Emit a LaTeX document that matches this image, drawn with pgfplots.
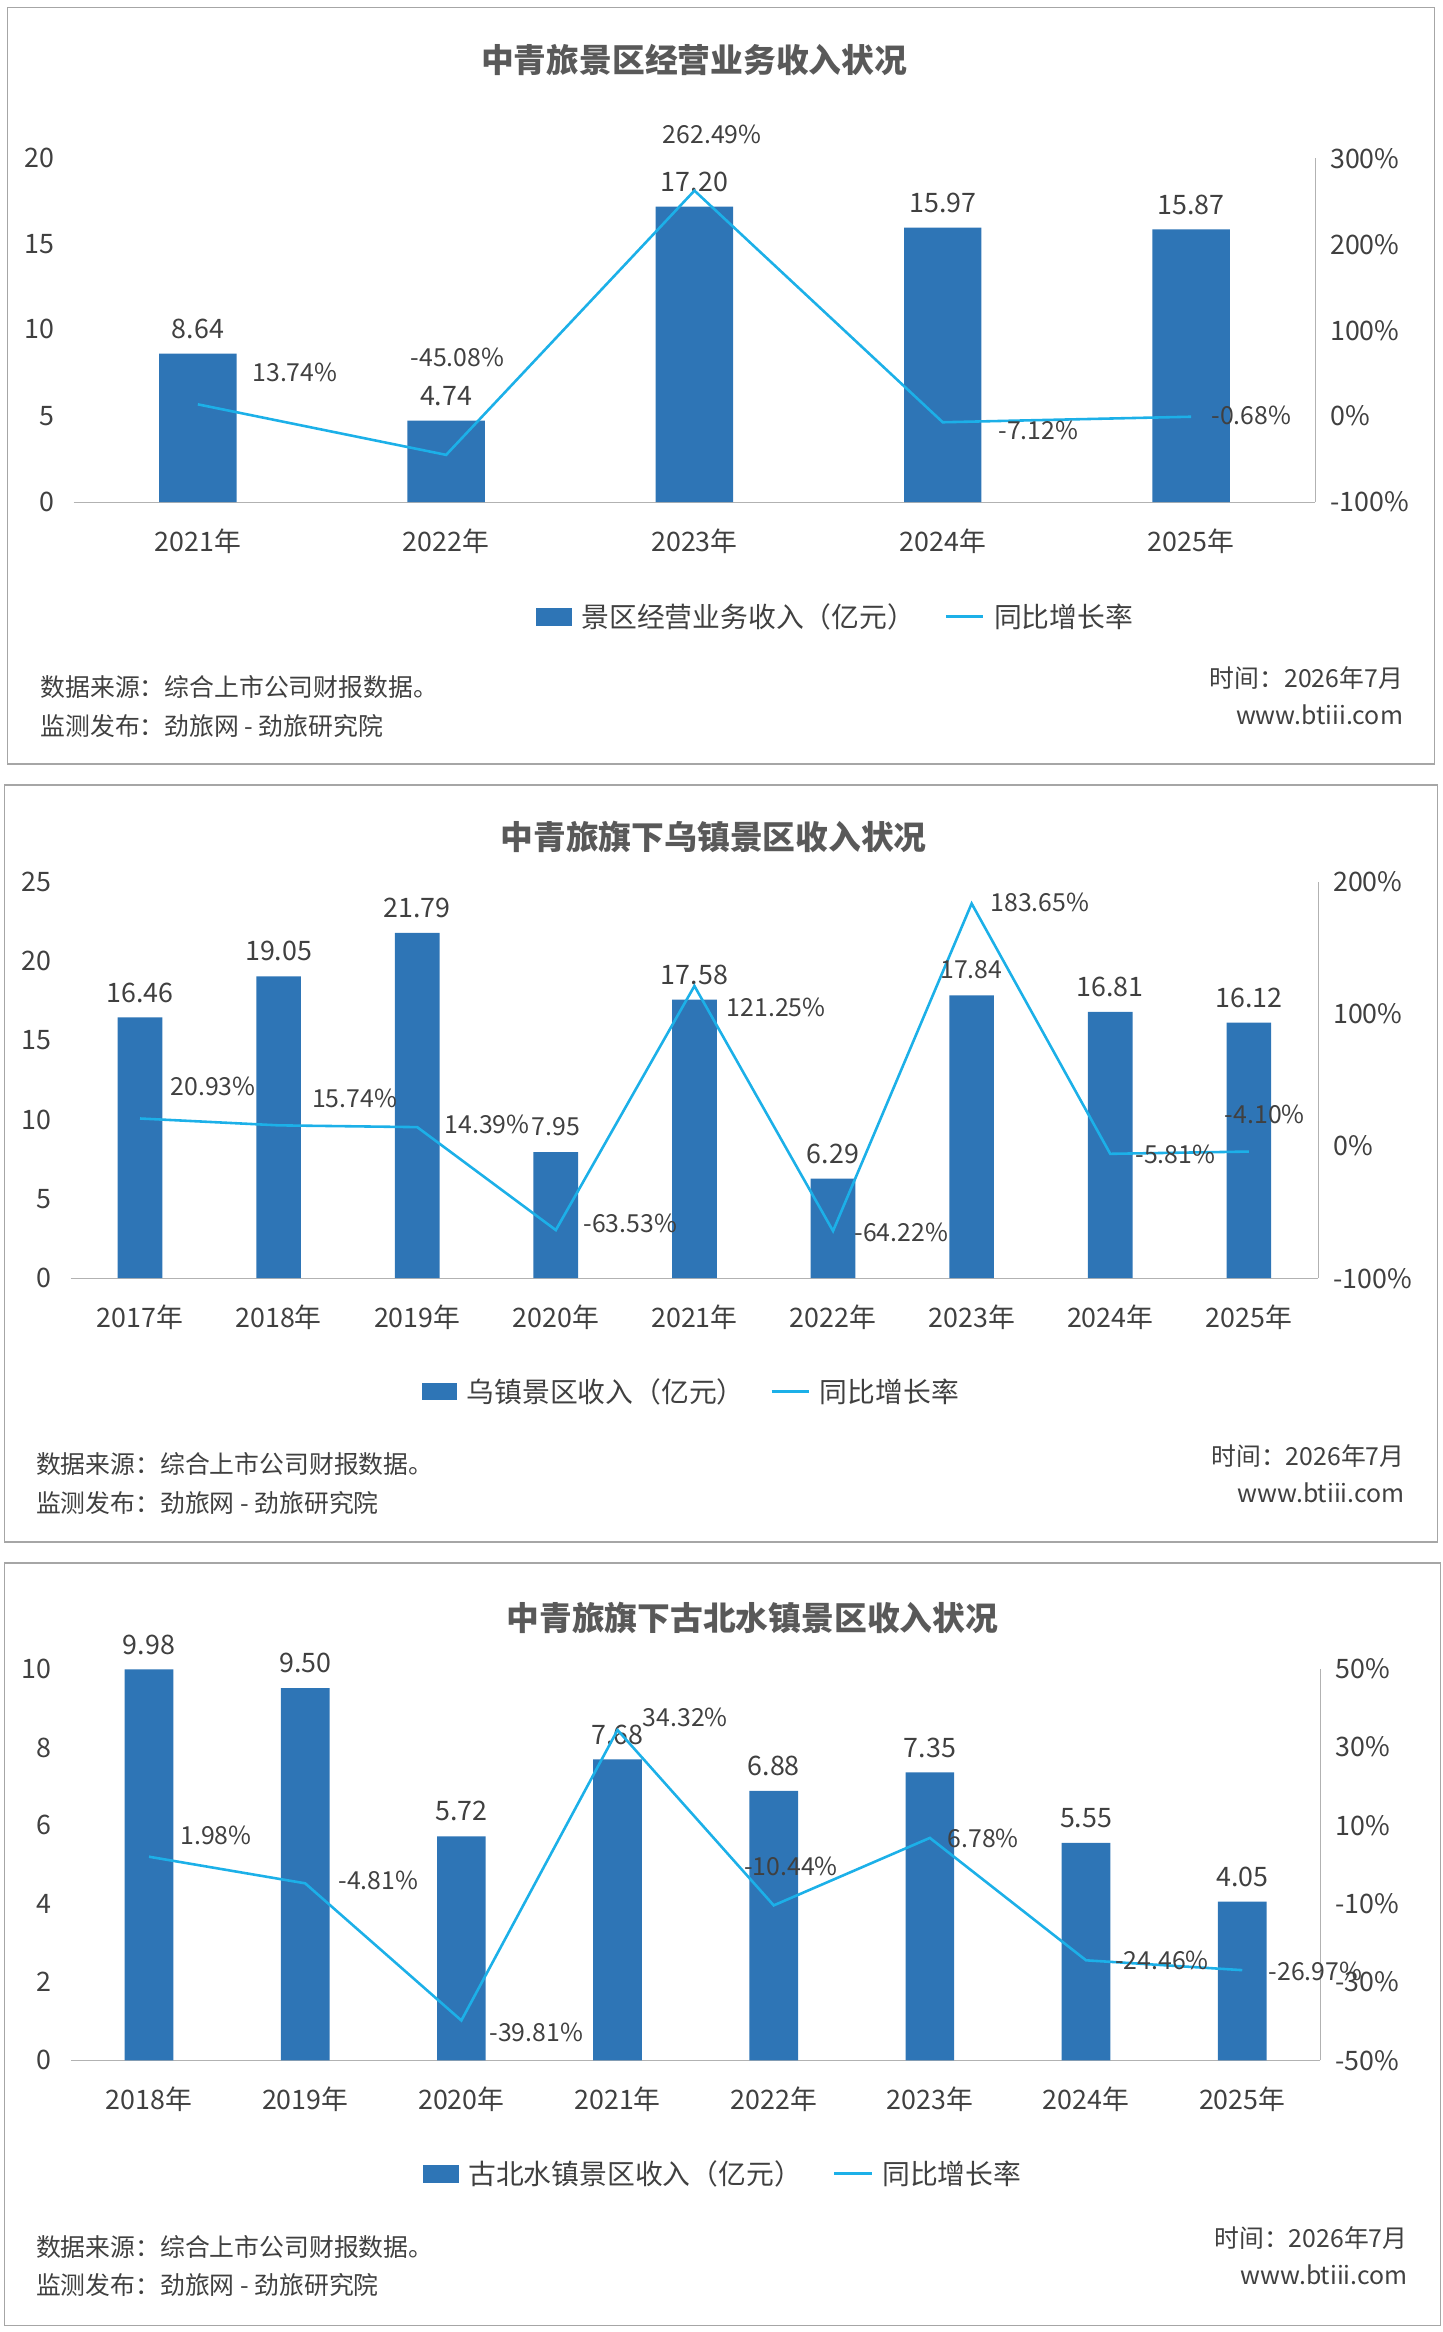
\documentclass[border=0pt]{standalone}
\usepackage{pgfplots}
\pgfplotsset{compat=1.18}
\usepackage{fontspec}
\setmainfont{Noto Sans CJK SC}
\definecolor{barc}{HTML}{2E75B6}
\definecolor{linec}{HTML}{1CB0E8}
\definecolor{txt}{HTML}{404040}
\definecolor{ttl}{HTML}{595959}
\newcommand{\lab}[4][center]{\node[anchor=#1,inner sep=0pt,text=txt,font=\fontsize{12.5}{14}\selectfont] at ({#2*0.75pt},{-#3*0.75pt}) {#4};}
\newcommand{\foot}[4]{%
 \node[anchor=west,inner sep=0pt,text=txt,font=\fontsize{12.5}{14}\selectfont] at ({#1*0.75pt},{-#2*0.75pt}) {数据来源：综合上市公司财报数据。};
 \node[anchor=west,inner sep=0pt,text=txt,font=\fontsize{12.5}{14}\selectfont] at ({#1*0.75pt},{-(#2+26)*0.75pt}) {监测发布：劲旅网 - 劲旅研究院};
 \node[anchor=east,inner sep=0pt,text=txt,font=\fontsize{12.5}{14}\selectfont] at ({#3*0.75pt},{-#4*0.75pt}) {时间：2026年7月};
 \node[anchor=east,inner sep=0pt,text=txt,font=\fontsize{12.5}{14}\selectfont] at ({#3*0.75pt},{-(#4+25)*0.75pt}) {www.btiii.com};}
\newcommand{\leg}[5]{%
 \fill[barc] ({#1*0.75pt},{-(#2-6)*0.75pt}) rectangle ({(#1+24)*0.75pt},{-(#2+6)*0.75pt});
 \node[anchor=west,inner sep=0pt,text=txt,font=\fontsize{14}{16}\selectfont] at ({(#1+30)*0.75pt},{-#2*0.75pt}) {#3};
 \draw[linec,line width=1.5pt] ({#4*0.75pt},{-#2*0.75pt}) -- ({(#4+25)*0.75pt},{-#2*0.75pt});
 \node[anchor=west,inner sep=0pt,text=txt,font=\fontsize{14}{16}\selectfont] at ({(#4+32)*0.75pt},{-#2*0.75pt}) {#5};}
\pgfplotsset{
 base/.style={scale only axis, anchor=south west, axis line style={draw=gray!60}, tick style={draw=none},
   tick label style={text=txt,font=\fontsize{13.5}{15}\selectfont}, /pgf/number format/assume math mode=true,
   clip=false},
 lft/.style={base, axis x line*=bottom, axis y line=none, xtick=data,
   xticklabel style={yshift=-10pt}},
 rgt/.style={base, axis x line=none, axis y line*=right, xtick=\empty,
   yticklabel={\pgfmathprintnumber{\tick}\%}, yticklabel style={xshift=4pt}},
 bars/.style={ybar, fill=barc, draw=none, nodes near coords, point meta=explicit symbolic,
  nodes near coords style={text=txt,font=\fontsize{13.5}{15}\selectfont,yshift=4pt}},
}
\begin{document}
\begin{tikzpicture}
\path (0,0) rectangle (726pt,-1174pt);
\draw[gray!70,line width=0.8pt] (3.75pt,-3.75pt) rectangle (722.25pt,-384.75pt);
\draw[gray!70,line width=0.8pt] (2.25pt,-395.25pt) rectangle (723.75pt,-776.25pt);
\draw[gray!70,line width=0.8pt] (2.25pt,-786.75pt) rectangle (725.25pt,-1170.75pt);
% ---------- Panel 1
\begin{axis}[lft, at={(37.1pt,-252.75pt)}, width=625pt, height=173pt, xmin=-0.5, xmax=4.5,
  ymin=0, ymax=20, xticklabels={2021年,2022年,2023年,2024年,2025年}]
\addplot[bars, bar width=39pt]
 coordinates {(0,8.64)[8.64] (1,4.74)[4.74] (2,17.20)[17.20] (3,15.97)[15.97] (4,15.87)[15.87]};
\end{axis}
\begin{axis}[rgt, at={(37.1pt,-252.75pt)}, width=625pt, height=173pt, xmin=-0.5, xmax=4.5,
  ymin=-100, ymax=300, ytick={-100,0,100,200,300}]
\addplot[linec, line width=1.3pt, mark=none] coordinates {(0,13.74) (1,-45.08) (2,262.49) (3,-7.12) (4,-0.68)};
\end{axis}
\foreach \v/\y in {0/337,5/279,10/221,15/164,20/106} {\node[anchor=east,inner sep=0pt,text=txt,font=\fontsize{13.5}{15}\selectfont] at (27.75pt,{-\y*0.75pt}) {\v};}
\node[text=ttl,font=\fontsize{16.5}{18}\selectfont\bfseries] at (349.5pt,-30pt) {中青旅景区经营业务收入状况};
\lab{198}{250}{13.74\%}\lab{307}{240}{-45.08\%}\lab{478}{90}{262.49\%}\lab{697}{289}{-7.12\%}\lab{840}{279}{-0.68\%}
\leg{360}{414}{景区经营业务收入（亿元）}{635}{同比增长率}
\foot{27}{461}{942}{455}
% ---------- Panel 2
\begin{axis}[lft, at={(35.6pt,-643.5pt)}, width=628pt, height=199.5pt, xmin=-0.5, xmax=8.5,
  ymin=0, ymax=25, xticklabels={2017年,2018年,2019年,2020年,2021年,2022年,2023年,2024年,2025年}]
\addplot[bars, bar width=22.5pt]
 coordinates {(0,16.46)[16.46] (1,19.05)[19.05] (2,21.79)[21.79] (3,7.95)[\ ] (4,17.58)[17.58] (5,6.29)[6.29] (6,17.84)[\ ] (7,16.81)[16.81] (8,16.12)[16.12]};
\end{axis}
\begin{axis}[rgt, at={(35.6pt,-643.5pt)}, width=628pt, height=199.5pt, xmin=-0.5, xmax=8.5,
  ymin=-100, ymax=200, ytick={-100,0,100,200}]
\addplot[linec, line width=1.3pt, mark=none] coordinates {(0,20.93) (1,15.74) (2,14.39) (3,-63.53) (4,121.25) (5,-64.22) (6,183.65) (7,-5.81) (8,-4.10)};
\end{axis}
\foreach \v/\y in {0/858,5/805,10/752,15/698,20/645,25/592} {\node[anchor=east,inner sep=0pt,text=txt,font=\fontsize{13.5}{15}\selectfont] at (26.25pt,{-\y*0.75pt}) {\v};}
\node[text=ttl,font=\fontsize{16.5}{18}\selectfont\bfseries] at (359.25pt,-421.5pt) {中青旅旗下乌镇景区收入状况};
\lab{373}{756}{7.95}\lab{652}{651}{17.84}
\lab{143}{729}{20.93\%}\lab{238}{737}{15.74\%}\lab{327}{755}{14.39\%}\lab{423}{821}{-63.53\%}\lab{521}{676}{121.25\%}\lab{605}{827}{-64.22\%}\lab{698}{606}{183.65\%}\lab{789}{775}{-5.81\%}\lab{849}{748}{-4.10\%}
\leg{283}{934}{乌镇景区收入（亿元）}{518}{同比增长率}
\foot{24}{983}{943}{977}
% ---------- Panel 3
\begin{axis}[lft, at={(35.7pt,-1037.25pt)}, width=629pt, height=197.25pt, xmin=-0.5, xmax=7.5,
  ymin=0, ymax=10, xticklabels={2018年,2019年,2020年,2021年,2022年,2023年,2024年,2025年}]
\addplot[bars, bar width=24.5pt]
 coordinates {(0,9.98)[9.98] (1,9.50)[9.50] (2,5.72)[5.72] (3,7.68)[7.68] (4,6.88)[6.88] (5,7.35)[7.35] (6,5.55)[5.55] (7,4.05)[4.05]};
\end{axis}
\begin{axis}[rgt, at={(35.7pt,-1037.25pt)}, width=629pt, height=197.25pt, xmin=-0.5, xmax=7.5,
  ymin=-50, ymax=50, ytick={-50,-30,-10,10,30,50}]
\addplot[linec, line width=1.3pt, mark=none] coordinates {(0,1.98) (1,-4.81) (2,-39.81) (3,34.32) (4,-10.44) (5,6.78) (6,-24.46) (7,-26.97)};
\end{axis}
\foreach \v/\y in {0/1383,2/1330,4/1278,6/1225,8/1173,10/1120} {\node[anchor=east,inner sep=0pt,text=txt,font=\fontsize{13.5}{15}\selectfont] at (26.25pt,{-\y*0.75pt}) {\v};}
\node[text=ttl,font=\fontsize{16.5}{18}\selectfont\bfseries] at (378.75pt,-814.5pt) {中青旅旗下古北水镇景区收入状况};
\lab{145}{1232}{1.98\%}\lab{254}{1262}{-4.81\%}\lab{360}{1364}{-39.81\%}\lab{460}{1153}{34.32\%}\lab{531}{1253}{-10.44\%}\lab{660}{1234}{6.78\%}\lab{780}{1316}{-24.46\%}\lab{883}{1323}{-26.97\%}
\leg{284}{1459}{古北水镇景区收入（亿元）}{560}{同比增长率}
\foot{24}{1508}{945}{1502}
\end{tikzpicture}
\end{document}
